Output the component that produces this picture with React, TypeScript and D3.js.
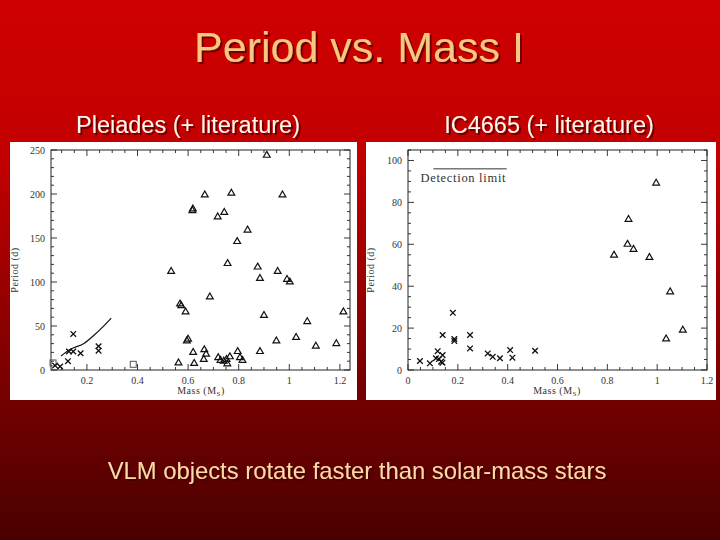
import React, { useEffect, useRef } from "react";
import * as d3 from "d3";

// Pleiades panel: [mass (Msun), period (d)]
const pleiadesTriangles = [
  [0.533, 112], [0.562, 8], [0.568, 75], [0.573, 73], [0.59, 66], [0.595, 33], [0.6, 35],
  [0.62, 20], [0.624, 7.5], [0.664, 23], [0.671, 18], [0.662, 12], [0.686, 83],
  [0.719, 14], [0.728, 11], [0.741, 10], [0.752, 12], [0.765, 15], [0.755, 7],
  [0.796, 21], [0.805, 14], [0.815, 11], [0.884, 21], [0.9, 62], [0.949, 33],
  [1.027, 37], [1.071, 55], [1.105, 27], [1.186, 30], [1.214, 66], [0.756, 121],
  [0.875, 117], [0.954, 112], [0.884, 104], [0.991, 103], [1.002, 100], [0.911, 244],
  [0.666, 199], [0.771, 201], [0.973, 199], [0.617, 181], [0.619, 183], [0.717, 174],
  [0.743, 179], [0.835, 159], [0.794, 146],
];
const pleiadesCrosses = [
  [0.074, 5], [0.094, 4], [0.125, 10], [0.129, 21], [0.146, 21], [0.146, 41],
  [0.175, 19], [0.246, 27], [0.246, 22],
];
const pleiadesSquares = [[0.066, 8], [0.383, 6.5]];
const pleiadesModel = [[0.098, 16], [0.131, 23], [0.19, 30.5], [0.23, 40], [0.263, 49], [0.296, 59]];
const pleiadesXTicks = [0.2, 0.4, 0.6, 0.8, 1, 1.2];
const pleiadesYTicks = [0, 50, 100, 150, 200, 250];

// IC4665 panel
const ic4665Crosses = [
  [0.048, 4.3], [0.088, 3.2], [0.119, 9], [0.112, 5.6], [0.124, 5.2], [0.133, 4],
  [0.138, 3.5], [0.139, 7.1], [0.139, 16.7], [0.18, 27.3], [0.186, 14.8], [0.186, 13.8],
  [0.249, 16.7], [0.249, 10.3], [0.32, 7.9], [0.34, 6.3], [0.369, 5.6], [0.41, 9.5],
  [0.419, 5.9], [0.51, 9.2],
];
const ic4665Triangles = [
  [0.996, 89.2], [0.885, 71.9], [0.881, 60], [0.905, 57.6], [0.827, 54.8],
  [0.969, 53.7], [1.052, 37.3], [1.103, 19], [1.036, 14.8],
];
const detectionMass = [0.102, 0.396];
const detectionPeriod = 96;
const ic4665XTicks = [0, 0.2, 0.4, 0.6, 0.8, 1, 1.2];
const ic4665YTicks = [0, 20, 40, 60, 80, 100];

const plotFont = "'Liberation Serif', 'DejaVu Serif', serif";
const slideFont = "'Liberation Sans', Arial, sans-serif";

const drawPanel = (svg, cfg) => {
  const { box, plot, xDomain, yDomain, xTicks, yTicks, xMinor, yMinor } = cfg;
  const g = svg.append("g");

  g.append("rect")
    .attr("x", box[0]).attr("y", box[1])
    .attr("width", box[2] - box[0]).attr("height", box[3] - box[1])
    .attr("fill", "#ffffff");

  const x = d3.scaleLinear().domain(xDomain).range([plot[0], plot[2]]);
  const y = d3.scaleLinear().domain(yDomain).range([plot[3], plot[1]]);

  g.append("rect")
    .attr("x", plot[0]).attr("y", plot[1])
    .attr("width", plot[2] - plot[0]).attr("height", plot[3] - plot[1])
    .attr("fill", "none").attr("stroke", "#222").attr("stroke-width", 1);

  // ticks on all four sides, pointing in
  const isMajor = (v, list) => list.some((t) => Math.abs(t - v) < 1e-6);
  const xs = d3.range(Math.ceil(xDomain[0] / xMinor - 1e-6) * xMinor, xDomain[1] + 1e-6, xMinor);
  const ys = d3.range(0, yDomain[1] + 1e-6, yMinor);
  xs.forEach((v) => {
    const len = isMajor(v, xTicks) ? 6 : 3;
    const px = x(v);
    g.append("line").attr("x1", px).attr("x2", px).attr("y1", plot[3]).attr("y2", plot[3] - len);
    g.append("line").attr("x1", px).attr("x2", px).attr("y1", plot[1]).attr("y2", plot[1] + len);
  });
  ys.forEach((v) => {
    const len = isMajor(v, yTicks) ? 6 : 3;
    const py = y(v);
    g.append("line").attr("x1", plot[0]).attr("x2", plot[0] + len).attr("y1", py).attr("y2", py);
    g.append("line").attr("x1", plot[2]).attr("x2", plot[2] - len).attr("y1", py).attr("y2", py);
  });
  g.selectAll("line").attr("stroke", "#222").attr("stroke-width", 0.9);

  g.selectAll(".xl").data(xTicks).enter().append("text")
    .attr("x", (d) => x(d)).attr("y", plot[3] + 14)
    .attr("text-anchor", "middle").attr("font-family", plotFont).attr("font-size", 10)
    .attr("fill", "#333").text((d) => d3.format("~g")(d));
  g.selectAll(".yl").data(yTicks).enter().append("text")
    .attr("x", plot[0] - 6).attr("y", (d) => y(d) + 3.5)
    .attr("text-anchor", "end").attr("font-family", plotFont).attr("font-size", 10)
    .attr("fill", "#333").text((d) => d);

  // axis titles
  g.append("text")
    .attr("transform", `translate(${box[0] + 8}, ${(plot[1] + plot[3]) / 2 + 10}) rotate(-90)`)
    .attr("text-anchor", "middle").attr("font-family", plotFont).attr("font-size", 10)
    .attr("fill", "#333").attr("letter-spacing", 0.5).text("Period  (d)");
  const ml = g.append("text")
    .attr("x", cfg.massLabelX).attr("y", plot[3] + 24)
    .attr("text-anchor", "middle").attr("font-family", plotFont).attr("font-size", 10)
    .attr("fill", "#333").attr("letter-spacing", 0.5);
  ml.append("tspan").text("Mass  (M");
  ml.append("tspan").attr("font-size", 7).attr("dy", 2).text("S");
  ml.append("tspan").attr("dy", -2).text(")");

  const tri = d3.symbol(d3.symbolTriangle, 20);
  const drawTriangles = (data) =>
    g.selectAll(null).data(data).enter().append("path")
      .attr("d", tri)
      .attr("transform", (d) => `translate(${x(d[0])},${y(d[1])})`)
      .attr("fill", "none").attr("stroke", "#111").attr("stroke-width", 1.2);
  const drawCrosses = (data) =>
    g.selectAll(null).data(data).enter().append("path")
      .attr("d", "M-2.8,-2.8L2.8,2.8M-2.8,2.8L2.8,-2.8")
      .attr("transform", (d) => `translate(${x(d[0])},${y(d[1])})`)
      .attr("fill", "none").attr("stroke", "#111").attr("stroke-width", 1.3);
  const drawSquares = (data) =>
    g.selectAll(null).data(data).enter().append("rect")
      .attr("x", (d) => x(d[0]) - 3).attr("y", (d) => y(d[1]) - 3)
      .attr("width", 6).attr("height", 6)
      .attr("fill", "none").attr("stroke", "#444").attr("stroke-width", 0.9);

  return { g, x, y, drawTriangles, drawCrosses, drawSquares };
};

const App = () => {
  const ref = useRef(null);

  useEffect(() => {
    const svg = d3.select(ref.current);
    svg.selectAll("*").remove();

    const defs = svg.append("defs");
    // background gradient
    const grad = defs.append("linearGradient")
      .attr("id", "bg").attr("x1", 0).attr("y1", 0).attr("x2", 0).attr("y2", 1);
    grad.append("stop").attr("offset", "0%").attr("stop-color", "#cf0000");
    grad.append("stop").attr("offset", "30%").attr("stop-color", "#c20000");
    grad.append("stop").attr("offset", "75%").attr("stop-color", "#720000");
    grad.append("stop").attr("offset", "100%").attr("stop-color", "#4a0000");
    // soft drop shadow for slide text
    defs.append("filter").attr("id", "shadow")
      .attr("x", "-10%").attr("y", "-20%").attr("width", "120%").attr("height", "150%")
      .append("feDropShadow")
      .attr("dx", 2).attr("dy", 2).attr("stdDeviation", 0.6)
      .attr("flood-color", "#3a0000").attr("flood-opacity", 0.65);

    svg.append("rect").attr("width", 720).attr("height", 540).attr("fill", "url(#bg)");

    const slideText = (txt, xPos, yPos, size, color) =>
      svg.append("text").attr("x", xPos).attr("y", yPos)
        .attr("text-anchor", "middle").attr("font-family", slideFont).attr("font-size", size)
        .attr("fill", color).attr("filter", "url(#shadow)").text(txt);

    slideText("Period vs. Mass I", 359, 62, 43, "#f7c880");
    slideText("Pleiades (+ literature)", 188, 133, 23.5, "#fff6ec");
    slideText("IC4665 (+ literature)", 549, 133, 23.5, "#fff6ec");
    slideText("VLM objects rotate faster than solar-mass stars", 357, 479, 23.8, "#ffd9a6");

    // Pleiades
    const left = drawPanel(svg, {
      box: [10, 142, 357, 400],
      plot: [51, 150, 350, 370],
      xDomain: [0.058, 1.24],
      yDomain: [0, 250],
      xTicks: pleiadesXTicks,
      yTicks: pleiadesYTicks,
      xMinor: 0.05,
      yMinor: 10,
      massLabelX: 201,
    });
    const line = d3.line().x((d) => left.x(d[0])).y((d) => left.y(d[1])).curve(d3.curveMonotoneX);
    left.g.append("path").datum(pleiadesModel).attr("d", line)
      .attr("fill", "none").attr("stroke", "#111").attr("stroke-width", 1.2);
    left.drawSquares(pleiadesSquares);
    left.drawTriangles(pleiadesTriangles);
    left.drawCrosses(pleiadesCrosses);

    // IC4665
    const right = drawPanel(svg, {
      box: [366, 142, 716, 400],
      plot: [408, 150, 707, 370],
      xDomain: [0, 1.2],
      yDomain: [0, 105],
      xTicks: ic4665XTicks,
      yTicks: ic4665YTicks,
      xMinor: 0.05,
      yMinor: 5,
      massLabelX: 557,
    });
    right.g.append("line")
      .attr("x1", right.x(detectionMass[0])).attr("x2", right.x(detectionMass[1]))
      .attr("y1", right.y(detectionPeriod)).attr("y2", right.y(detectionPeriod))
      .attr("stroke", "#333").attr("stroke-width", 1);
    right.g.append("text")
      .attr("x", right.x(detectionMass[0]) - 13).attr("y", right.y(detectionPeriod) + 13)
      .attr("font-family", plotFont).attr("font-size", 12.5).attr("fill", "#333")
      .attr("letter-spacing", 0.7).text("Detection  limit");
    right.drawTriangles(ic4665Triangles);
    right.drawCrosses(ic4665Crosses);
  }, []);

  return (
    <svg
      ref={ref}
      width={720}
      height={540}
      style={{ position: "absolute", left: 0, top: 0, display: "block" }}
    />
  );
};

export default App;
